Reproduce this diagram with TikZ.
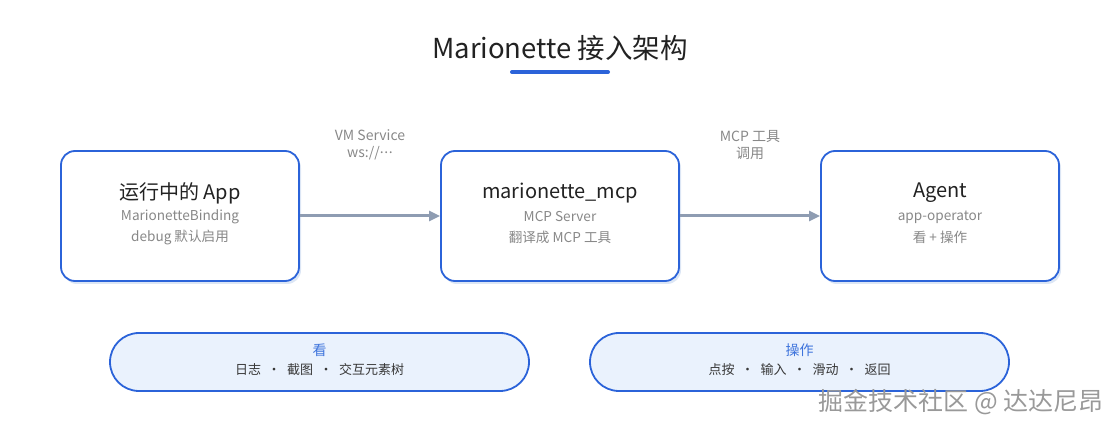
\documentclass[tikz,border=0pt]{standalone}
\usepackage{fontspec}
\setmainfont{Noto Sans CJK SC}
\usetikzlibrary{positioning,arrows.meta,shadows}
\definecolor{bleu}{HTML}{2B63D9}
\definecolor{bleuclair}{HTML}{3E74DC}
\definecolor{ombre}{HTML}{DCE6F5}
\definecolor{fleche}{HTML}{8E9CB2}
\definecolor{gris}{HTML}{888888}
\definecolor{fond}{HTML}{EAF2FD}
\definecolor{encre}{HTML}{222222}
\tikzset{
	boite/.style={draw=bleu, line width=1.8pt, fill=white, rounded corners=14pt,
		minimum width=238pt, minimum height=130pt,
		drop shadow={shadow xshift=2pt, shadow yshift=-3pt, fill=ombre, opacity=1}},
	pilule/.style={draw=bleu, line width=1.8pt, fill=fond, rounded corners=29pt,
		minimum width=419pt, minimum height=58pt},
	grand/.style={text=encre, font=\fontsize{20}{24}\selectfont},
	petit/.style={text=gris, font=\fontsize{13.6}{16}\selectfont},
	etiquette/.style={text=gris, align=center, font=\fontsize{14}{16.5}\selectfont},
	lien/.style={fleche, line width=3pt, -{Triangle[length=11pt, width=10pt]}}
}
\newcommand{\bloc}[5]{\node[boite] (#1) at (#2) {};
	\node[grand] (#1-t) at ([yshift=23pt]#1.center) {#3};
	\node[petit] (#1-a) at ([yshift=-1pt]#1.center) {#4};
	\node[petit] (#1-b) at ([yshift=-21pt]#1.center) {#5}}
\newcommand{\bande}[4]{\node[pilule] (#1) at (#2) {};
	\node[text=bleuclair, font=\fontsize{14}{16}\selectfont] (#1-t) at ([yshift=12pt]#1.center) {#3};
	\node[text=encre!90, font=\fontsize{13}{16}\selectfont] (#1-l) at ([yshift=-8pt]#1.center) {#4}}
\newcommand{\sep}{\enspace·\enspace}
\newcommand{\points}{\raisebox{0.28em}{.\kern0.05em.\kern0.05em.}}

\begin{document}
\begin{tikzpicture}[x=1pt, y=-1pt]
	\useasboundingbox (0,0) rectangle (1120,430);
%Title
	\node[text=encre, font=\fontsize{27.5}{30}\selectfont] (titre) at (560,48) {Marionette 接入架构};
	\draw[bleu, line width=4pt, line cap=round] (512,72) -- (608,72);
%The three blocks
	\bloc{app}{180,216}{运行中的 App}{MarionetteBinding}{debug 默认启用};
	\bloc{mcp}{560,216}{marionette\_mcp}{MCP Server}{翻译成 MCP 工具};
	\bloc{agent}{940,216}{Agent}{app-operator}{看 + 操作};
%Arrows
	\draw[lien] (app) -- (mcp) node[midway, yshift=71pt, etiquette] (vm) {VM Service\\ws://\points};
	\draw[lien] (mcp) -- (agent) node[midway, yshift=71pt, etiquette] (outil) {MCP 工具\\调用};
%Bottom bands
	\bande{voir}{319.5,362}{看}{日志\sep{}截图\sep{}交互元素树};
	\bande{agir}{799.5,362}{操作}{点按\sep{}输入\sep{}滑动\sep{}返回};
%Watermark
	\node[text=gray!80, font=\fontsize{25}{28}\selectfont] (marque) at (961,402) {掘金技术社区 @ 达达尼昂};
\end{tikzpicture}
\end{document}
